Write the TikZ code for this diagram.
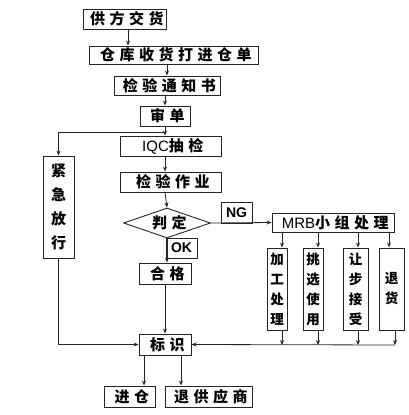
\documentclass[tikz,border=0pt]{standalone}
\usepackage{fontspec}
\newfontfamily\cjk[LetterSpace=30]{Noto Sans CJK SC}
\newfontfamily\cjkv{Noto Sans CJK SC}
\newfontfamily\lat{Liberation Sans}
\newcommand\tx[1]{#1\kern-.3em}
\usetikzlibrary{arrows.meta,shapes.geometric}
\begin{document}
\begin{tikzpicture}[x=1pt,y=-1pt,
  box/.style={draw=black!85,line width=0.9pt,inner sep=0pt,fill=white,font=\fontsize{15}{17}\cjk\bfseries},
  vbox/.style={draw=black!85,line width=0.9pt,inner sep=0pt,fill=white,align=center,font=\fontsize{13.5}{20}\cjkv\bfseries},
  lbl/.style={draw=black!85,line width=0.9pt,inner sep=0pt,fill=white,font=\fontsize{14}{16}\lat\bfseries},
  conn/.style={draw=black!85,line width=0.8pt},
  arr/.style={conn,-{Stealth[length=5pt,width=4pt]}}]
\useasboundingbox (0,0) rectangle (409,415);
% main column
\node[box,minimum width=83pt,minimum height=20pt] (n1) at (124.5,19) {\tx{供方交货}};
\node[box,minimum width=169pt,minimum height=18pt] (n2) at (173.5,55) {\tx{仓库收货打进仓单}};
\node[box,minimum width=106pt,minimum height=19pt] (n3) at (167,85.5) {\tx{检验通知书}};
\node[box,minimum width=50pt,minimum height=20pt] (n4) at (165,116) {\tx{审单}};
\node[box,minimum width=101pt,minimum height=20pt] (iqc) at (170.5,146) {{\lat\mdseries\fontsize{15}{17}\selectfont IQC}\tx{抽检}};
\node[box,minimum width=101pt,minimum height=20pt] (zy) at (170.5,182) {\tx{检验作业}};
\node[box,shape=diamond,aspect=3,minimum width=87pt,minimum height=30pt] (pd) at (167,223) {\tx{判定}};
\node[lbl,minimum width=31pt,minimum height=21pt] (ng) at (236.5,212.5) {NG};
\node[lbl,minimum width=31pt,minimum height=20pt] (ok) at (181.5,248) {OK};
\node[box,minimum width=52pt,minimum height=21pt] (hg) at (165,273.5) {\tx{合格}};
\node[vbox,minimum width=31pt,minimum height=102pt,font=\fontsize{15}{24}\cjkv\bfseries] (jj) at (58.5,207) {紧\\急\\放\\行};
% MRB
\node[box,minimum width=122pt,minimum height=19pt] (mrb) at (333,222.5) {{\lat\mdseries\fontsize{15}{17}\selectfont MRB}\tx{小组处理}};
\node[vbox,minimum width=20pt,minimum height=82pt] (s1) at (277,289) {加\\工\\处\\理};
\node[vbox,minimum width=20pt,minimum height=82pt] (s2) at (313,289) {挑\\选\\使\\用};
\node[vbox,minimum width=25pt,minimum height=82pt] (s3) at (355.5,289) {让\\步\\接\\受};
\node[vbox,minimum width=25pt,minimum height=82pt] (s4) at (391.5,289) {退\\货};
% bottom
\node[box,minimum width=52pt,minimum height=21pt] (bs) at (165,344.5) {\tx{标识}};
\node[box,minimum width=51pt,minimum height=21pt] (jc) at (129.5,396.5) {\tx{进仓}};
\node[box,minimum width=87pt,minimum height=21pt] (tg) at (208.5,396.5) {\tx{退供应商}};
% junction coordinates
\coordinate (j1) at (165,132);
\coordinate (b1) at (282,345);
\coordinate (b2) at (318,345);
\coordinate (b3) at (358,345);
\coordinate (b4) at (395,345);
\coordinate (t4) at (389,232);
% connectors
\draw[arr] ([xshift=3.5pt]n1.south) -- ([xshift=3.5pt]n1.south |- n2.north);
\draw[arr] (n3.north |- n2.south) -- (n3.north);
\draw[arr] (n4.north |- n3.south) -- (n4.north);
\draw[arr] (n4.south) -- (n4.south |- iqc.north);
\draw[arr] (j1) -| (jj.north);
\draw[arr] (n4.south |- iqc.south) -- (n4.south |- zy.north);
\draw[arr] (n4.south |- zy.south) -- (pd.north);
\draw[arr] (pd.east) -- (mrb.west);
\draw[arr] (pd.south) -- (pd.south |- hg.north);
\draw[arr] (hg.south) -- (bs.north);
\draw[arr] (jj.south) |- (bs.west);
\draw[arr] (b1 |- mrb.south) -- (b1 |- s1.north);
\draw[arr] (b2 |- mrb.south) -- (b2 |- s2.north);
\draw[arr] (b3 |- mrb.south) -- (b3 |- s3.north);
\draw[arr] (t4) -- (t4 |- s4.north);
\draw[arr] (b1 |- s1.south) -- (b1);
\draw[arr] (b2 |- s2.south) -- (b2);
\draw[arr] (b3 |- s3.south) -- (b3);
\draw[arr] (b4 |- s4.south) -- (b4);
\draw[arr] (b4) -- (bs.east);
\draw[arr] ([xshift=-21pt]bs.south) -- ([xshift=-21pt]bs.south |- jc.north);
\draw[arr] ([xshift=16pt]bs.south) -- ([xshift=16pt]bs.south |- tg.north);
\end{tikzpicture}
\end{document}
